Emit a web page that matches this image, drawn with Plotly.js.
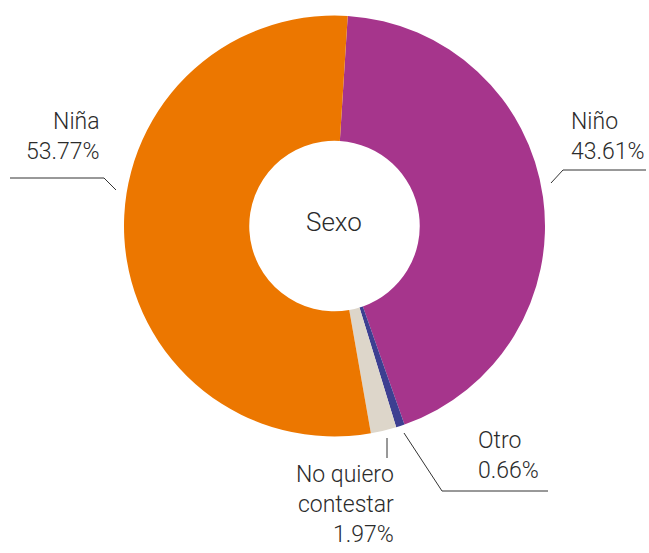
<!DOCTYPE html>
<html>
<head>
<meta charset="utf-8">
<script src="https://cdn.plot.ly/plotly-3.0.1.min.js"></script>
<style>html,body{margin:0;padding:0;background:#fff;}#chart{width:649px;height:553px;}</style>
</head>
<body>
<div id="chart"></div>
<script>
const categories = ["Niño", "Otro", "No quiero contestar", "Niña"];
const displayLabels = ["Niño", "Otro", "No quiero<br>contestar", "Niña"];
const values = [43.61, 0.66, 1.97, 53.77];
const colors = ["#A6358C", "#3D3F91", "#DDD6CA", "#EC7700"];
const centerTitle = "Sexo";

const W = 649, H = 553;
const px = x => x / W;
const py = y => 1 - y / H;

// label placement (pixels): x, y, anchor
const labelPos = [
  {x: 570, y: 107, xanchor: "left", align: "left"},
  {x: 477, y: 426, xanchor: "left", align: "left"},
  {x: 395, y: 460, xanchor: "right", align: "right"},
  {x: 101, y: 107, xanchor: "right", align: "right"}
];
const leaders = [
  [[551,183],[563,170],[646,170]],
  [[404,433],[442,491],[548,491]],
  [[387,438],[387,458]],
  [[116,190],[104,178],[10,178]]
];

const font = {family: "Roboto, 'DejaVu Sans', sans-serif", size: 23, color: "#2b2b2b", weight: 300};

const annotations = categories.map((c, i) => ({
  xref: "paper", yref: "paper",
  x: px(labelPos[i].x), y: py(labelPos[i].y),
  xanchor: labelPos[i].xanchor, yanchor: "top", align: labelPos[i].align,
  text: displayLabels[i] + "<br>" + values[i].toFixed(2) + "%",
  showarrow: false, font: font, borderpad: 0
}));
annotations.push({
  xref: "paper", yref: "paper", x: px(334), y: py(222),
  xanchor: "center", yanchor: "middle", text: centerTitle,
  showarrow: false, font: Object.assign({}, font, {size: 26})
});

const shapes = leaders.map(pts => ({
  type: "path", xref: "paper", yref: "paper",
  path: pts.map((p, j) => (j ? "L" : "M") + px(p[0]) + "," + py(p[1])).join(" "),
  line: {color: "#333333", width: 1}
}));

const trace = {
  type: "pie",
  labels: categories,
  values: values,
  marker: {colors: colors, line: {width: 0}},
  hole: 0.405,
  sort: false,
  direction: "clockwise",
  rotation: 3.6,
  textinfo: "none",
  hoverinfo: "label+percent",
  domain: {x: [px(123.5), px(545.5)], y: [py(436.5), py(15.5)]}
};

const layout = {
  width: W, height: H,
  margin: {l: 0, r: 0, t: 0, b: 0},
  showlegend: false,
  paper_bgcolor: "#ffffff",
  annotations: annotations,
  shapes: shapes,
  font: font
};

Plotly.newPlot("chart", [trace], layout, {displayModeBar: false, staticPlot: true});
</script>
</body>
</html>
